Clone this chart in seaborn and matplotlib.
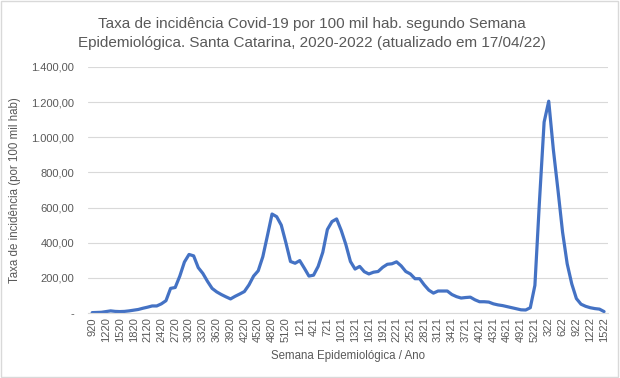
import pandas as pd
import matplotlib.pyplot as plt
import matplotlib.ticker as mticker
from matplotlib.patches import Rectangle
import seaborn as sns

# semanas epidemiologicas: 2020 (9-53), 2021 (1-52), 2022 (1-15)
semanas = ([f"{w}20" for w in range(9, 54)] +
           [f"{w}21" for w in range(1, 53)] +
           [f"{w}22" for w in range(1, 16)])

taxa_2020 = [2, 3, 4, 8, 12, 9, 8, 9, 12, 16, 20, 27, 33, 40, 40, 52, 70, 140,
             145, 210, 290, 333, 325, 258, 225, 180, 140, 120, 105, 92, 80, 95,
             108, 122, 160, 210, 240, 320, 440, 563, 548, 500, 400, 293, 283]
taxa_2021 = [298, 255, 210, 215, 265, 345, 475, 520, 535, 470, 390, 293, 250,
             265, 235, 222, 232, 236, 260, 277, 280, 291, 268, 236, 222, 195,
             195, 160, 130, 113, 125, 125, 125, 105, 93, 85, 88, 90, 75, 64, 64,
             62, 52, 46, 42, 36, 30, 24, 18, 17, 30, 157]
taxa_2022 = [640, 1086, 1205, 930, 700, 460, 280, 165, 82, 50, 38, 30, 25, 22, 8]

df = pd.DataFrame({"semana": semanas,
                   "taxa": taxa_2020 + taxa_2021 + taxa_2022})
df["pos"] = range(len(df))

cinza = "#595959"
sns.set_style("white")
plt.rcParams['font.family'] = ['Liberation Sans', 'DejaVu Sans']

fig = plt.figure(figsize=(6.2, 3.78), dpi=100)
ax = fig.add_axes([0.142, 0.172, 0.839, 0.651])

sns.lineplot(data=df, x="pos", y="taxa", color="#4472C4", linewidth=2.3, ax=ax)

ax.set_ylim(0, 1400)
ax.set_xlim(-0.9, len(df) - 0.1)
ax.yaxis.set_major_locator(mticker.MultipleLocator(200))


def fmt_br(v, pos):
    if v == 0:
        return "-"
    s = f"{v:,.2f}"
    return s.replace(",", "X").replace(".", ",").replace("X", ".")


ax.yaxis.set_major_formatter(mticker.FuncFormatter(fmt_br))
ax.set_xticks(df["pos"][::3])
ax.set_xticklabels(df["semana"][::3], rotation=90)
ax.tick_params(axis="both", length=0, colors=cinza, labelsize=8)
ax.tick_params(axis="y", pad=10)
ax.tick_params(axis="x", pad=3)

ax.grid(axis="y", color="#D9D9D9", linewidth=0.8)
for s in ["top", "right", "left"]:
    ax.spines[s].set_visible(False)
ax.spines["bottom"].set_color("#D9D9D9")

ax.set_xlabel("Semana Epidemiológica / Ano", color=cinza, fontsize=8.3, labelpad=6)
ax.set_ylabel("Taxa de incidência (por 100 mil hab)", color=cinza, fontsize=8.3, labelpad=7)

fig.text(0.503, 0.912, "Taxa de incidência Covid-19 por 100 mil hab. segundo Semana\n"
         "Epidemiológica. Santa Catarina, 2020-2022 (atualizado em 17/04/22)",
         ha="center", va="center", color=cinza, fontsize=11.0, linespacing=1.45)

fig.patches.append(Rectangle((0.002, 0.003), 0.995, 0.994, transform=fig.transFigure,
                             fill=False, edgecolor="#D9D9D9", linewidth=1))

fig.savefig("out.png", dpi=100)
